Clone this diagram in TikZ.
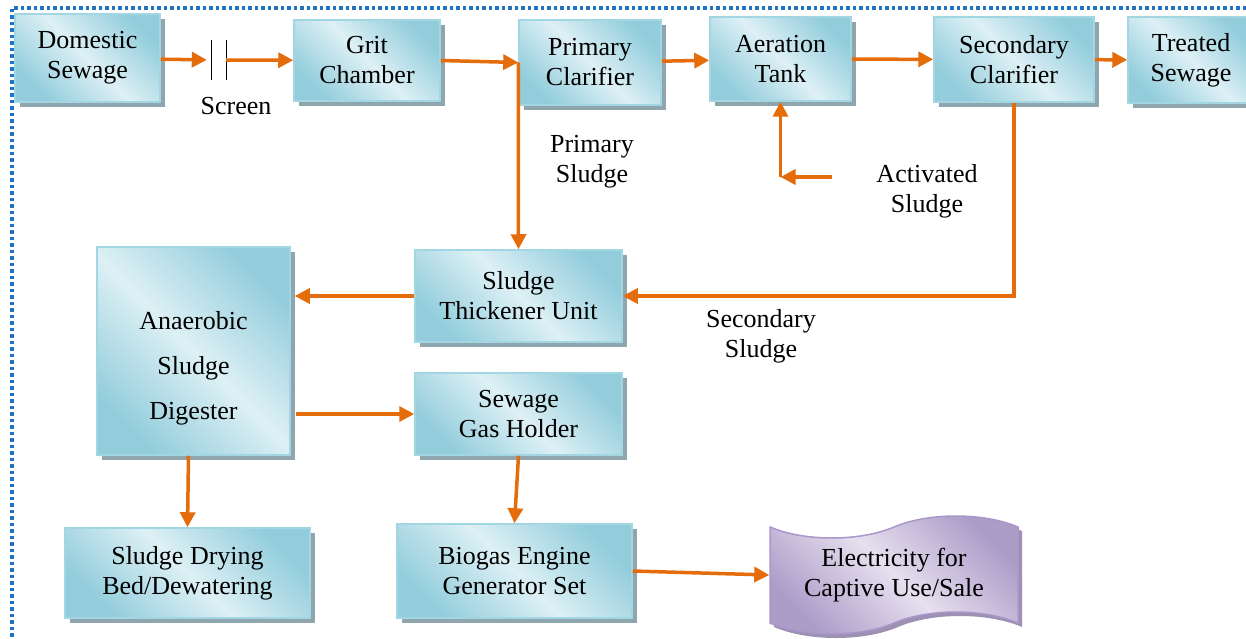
\documentclass[tikz,border=0pt]{standalone}
\usepackage{fontspec}
\setmainfont{Liberation Serif}
\usetikzlibrary{arrows.meta,positioning,shadows,shapes.symbols}
\definecolor{plantblue}{HTML}{93CDDC}
\definecolor{plantpale}{HTML}{DDF0F5}
\definecolor{plantedge}{HTML}{A3D6E3}
\definecolor{plantshadow}{HTML}{8FA6AE}
\definecolor{plantviolet}{HTML}{AC9CC8}
\definecolor{plantlilac}{HTML}{E6E0EF}
\definecolor{plantvedge}{HTML}{A897C9}
\definecolor{plantorange}{HTML}{E46C0A}
\definecolor{frameblue}{HTML}{1E74C4}

\begin{document}
\begin{tikzpicture}[
  x=1pt, y=-1pt,
  >={Triangle[length=15pt,width=15pt]},
  font=\fontsize{26}{30}\selectfont,
  unit/.style={
    draw=plantedge,
    line width=1.5pt,
    top color=plantblue, bottom color=plantblue, middle color=plantpale,
    shading angle=-45,
    drop shadow={shadow xshift=5pt,shadow yshift=-5pt,fill=plantshadow,opacity=1},
    align=center,
    inner sep=0pt
  },
  output/.style={
    tape,
    draw=plantvedge,
    line width=1.5pt,
    top color=plantviolet, bottom color=plantviolet, middle color=plantlilac,
    shading angle=-45,
    drop shadow={shadow xshift=4pt,shadow yshift=-4pt,fill=plantvedge!70!gray,opacity=1},
    tape bend height=22pt,
    align=center,
    inner sep=0pt
  },
  note/.style={align=center},
  flow/.style={->,line width=3.5pt,plantorange}
]
  \useasboundingbox (0,0) rectangle (1246,639);
  \draw[frameblue,line width=3.5pt,dash pattern=on 3.5pt off 3pt] (1246,8) -- (12,8) -- (12,639);

  % main line
  \node[unit,minimum width=145pt,minimum height=88pt] (domestic) at (87.5,58) {Domestic\\Sewage};
  \node[minimum width=14pt,minimum height=40pt,inner sep=0pt] (screen) at (219,60) {};
  \node[note] (screenlbl) at (236,106) {Screen};
  \node[unit,minimum width=146pt,minimum height=81pt] (grit) at (367,60.5) {Grit\\Chamber};
  \node[unit,minimum width=142pt,minimum height=85pt] (primary) at (590,62.5) {Primary\\Clarifier};
  \node[unit,minimum width=141pt,minimum height=84pt] (aeration) at (780.5,59) {Aeration\\Tank};
  \node[unit,minimum width=160pt,minimum height=85pt] (secondary) at (1014,59.5) {Secondary\\Clarifier};
  \node[unit,minimum width=126pt,minimum height=86pt] (treated) at (1191,60) {Treated\\Sewage};

  % sludge line
  \node[unit,minimum width=207pt,minimum height=92pt] (thickener) at (518.5,296) {Sludge\\Thickener Unit};
  \node[unit,minimum width=193pt,minimum height=208pt] (digester) at (193.5,351) {\strut\\[2pt]Anaerobic\\[15pt]Sludge\\[15pt]Digester};
  \node[unit,minimum width=207pt,minimum height=82pt] (gasholder) at (518.5,414) {Sewage\\Gas Holder};
  \node[unit,minimum width=245pt,minimum height=90pt] (drying) at (187.5,573) {Sludge Drying\\Bed/Dewatering};
  \node[unit,minimum width=235pt,minimum height=94pt] (engine) at (514.5,571) {Biogas Engine\\Generator Set};
  \node[output,minimum width=248pt,minimum height=118pt] (power) at (894,575) {Electricity for\\Captive Use/Sale};

  \node[note] (primlbl) at (592,162) {Primary\\Sludge};
  \node[note] (actlbl) at (927,191) {Activated\\Sludge};
  \node[note] (seclbl) at (761,336) {Secondary\\Sludge};
  \coordinate (actin) at (832,177);
  \coordinate (actturn) at (aeration.south |- actin);

  \draw[line width=1.2pt] (screen.north west) -- (screen.south west)
    (screen.north east) -- (screen.south east);

  \draw[flow,shorten >=5pt] (domestic) -- (screen.west);
  \draw[flow] (screen.east) -- (grit);
  \draw[flow] (grit.east) -- (primary.west);
  \draw[flow] (primary) -- (aeration);
  \draw[flow] (aeration) -- (secondary);
  \draw[flow] (secondary) -- (treated);
  \draw[flow] (actin) -- (actturn);
  \draw[flow] (actturn) -- (aeration.south);
  \draw[flow] (primary.west) -- (thickener.north);
  \draw[flow] (secondary.south) |- (thickener.east);
  \draw[flow,shorten >=4pt] (thickener.west) -- (digester.east |- thickener.west);
  \draw[flow,shorten <=5pt] (digester.east |- gasholder.west) -- (gasholder.west);
  \draw[flow] ([xshift=-5pt]digester.south) -- (drying.north);
  \draw[flow] (gasholder.south) -- (engine.north);
  \draw[flow] (engine.east) -- (power.west);
\end{tikzpicture}
\end{document}
